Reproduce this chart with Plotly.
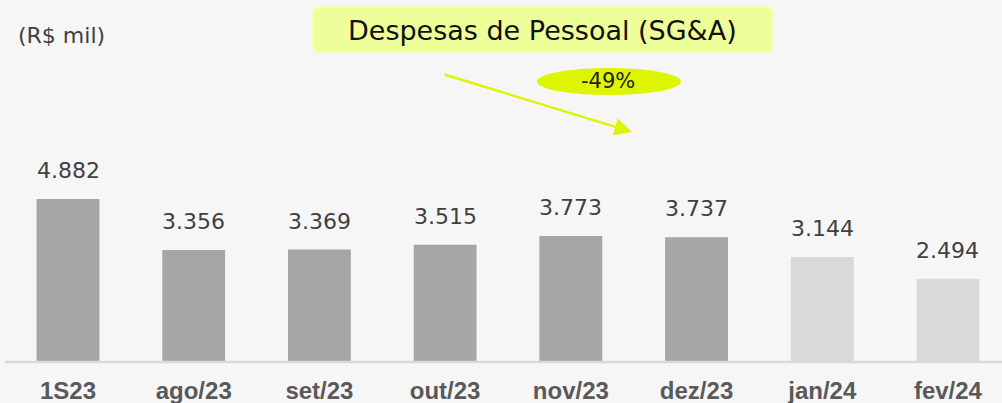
import plotly.graph_objects as go

categories = ["1S23", "ago/23", "set/23", "out/23", "nov/23", "dez/23", "jan/24", "fev/24"]
values = [4882, 3356, 3369, 3515, 3773, 3737, 3144, 2494]
value_labels = ["4.882", "3.356", "3.369", "3.515", "3.773", "3.737", "3.144", "2.494"]
bar_colors = ["#A6A6A6"] * 6 + ["#D9D9D9"] * 2

W, H = 1002, 403
B = 41
PH = H - B
FONT = "DejaVu Sans"

def px(x):
    return x / W

def py(y):
    return (PH - y) / PH

fig = go.Figure()
fig.add_trace(go.Bar(
    x=list(range(len(categories))), y=values,
    marker=dict(color=bar_colors, line=dict(width=0)),
    hoverinfo="skip",
))

for i, (v, t) in enumerate(zip(values, value_labels)):
    fig.add_annotation(x=i, y=v, text=t, showarrow=False, yanchor="bottom",
                       yshift=14, font=dict(family=FONT, size=22, color="#404040"))

def rounded_rect(x0, y0, x1, y1, r):
    return (f"M {px(x0+r)} {py(y0)} L {px(x1-r)} {py(y0)} "
            f"Q {px(x1)} {py(y0)} {px(x1)} {py(y0+r)} L {px(x1)} {py(y1-r)} "
            f"Q {px(x1)} {py(y1)} {px(x1-r)} {py(y1)} L {px(x0+r)} {py(y1)} "
            f"Q {px(x0)} {py(y1)} {px(x0)} {py(y1-r)} L {px(x0)} {py(y0+r)} "
            f"Q {px(x0)} {py(y0)} {px(x0+r)} {py(y0)} Z")

shapes = [
    dict(type="path", xref="paper", yref="paper", path=rounded_rect(313, 7, 773, 53, 7),
         fillcolor="#EEFF99", line=dict(color="#F2FFB8", width=2), layer="above"),
    dict(type="circle", xref="paper", yref="paper", x0=px(537), x1=px(681), y0=py(95), y1=py(68),
         fillcolor="#DDF500", line=dict(width=0), layer="above"),
    dict(type="line", xref="paper", yref="paper", x0=px(5), x1=1, y0=0, y1=0,
         line=dict(color="#D9D9D9", width=2.5)),
]

annotations_extra = [
    dict(xref="paper", yref="paper", x=px(542), y=py(30), text="Despesas de Pessoal (SG&amp;A)",
         xanchor="center", yanchor="middle",
         showarrow=False, font=dict(family=FONT, size=27, color="#111111")),
    dict(xref="paper", yref="paper", x=px(608), y=py(81), text="-49%",
         xanchor="center", yanchor="middle",
         showarrow=False, font=dict(family=FONT, size=21, color="#222222")),
    dict(xref="paper", yref="paper", x=px(16), y=py(35), text="(R$ mil)", xanchor="left",
         yanchor="middle",
         showarrow=False, font=dict(family=FONT, size=22, color="#404040")),
    dict(xref="paper", yref="paper", x=px(632), y=py(132), ax=443 - 632, ay=74 - 132,
         text="", showarrow=True, arrowhead=2, arrowsize=1.4, arrowwidth=2.5,
         arrowcolor="#DDF500"),
]
for a in annotations_extra:
    fig.add_annotation(**a)

fig.update_layout(
    width=W, height=H,
    margin=dict(l=0, r=0, t=0, b=B),
    paper_bgcolor="#F6F6F6", plot_bgcolor="#F6F6F6",
    bargap=0.5, showlegend=False,
    shapes=shapes,
    xaxis=dict(range=[-0.541, 7.430], tickmode="array", tickvals=list(range(len(categories))),
               ticktext=[f"<b>{c}</b>" for c in categories], showgrid=False, zeroline=False,
               showline=False, ticks="", ticklabelstandoff=12, automargin=False,
               tickfont=dict(family="Liberation Sans", size=24, color="#595959")),
    yaxis=dict(range=[0, 10842], visible=False, showgrid=False, zeroline=False, automargin=False),
)

fig.write_html("out.html", config={"displayModeBar": False, "staticPlot": True},
               post_script="document.body.style.margin='0';document.body.style.overflow='hidden';document.body.style.background='#F6F6F6';")
